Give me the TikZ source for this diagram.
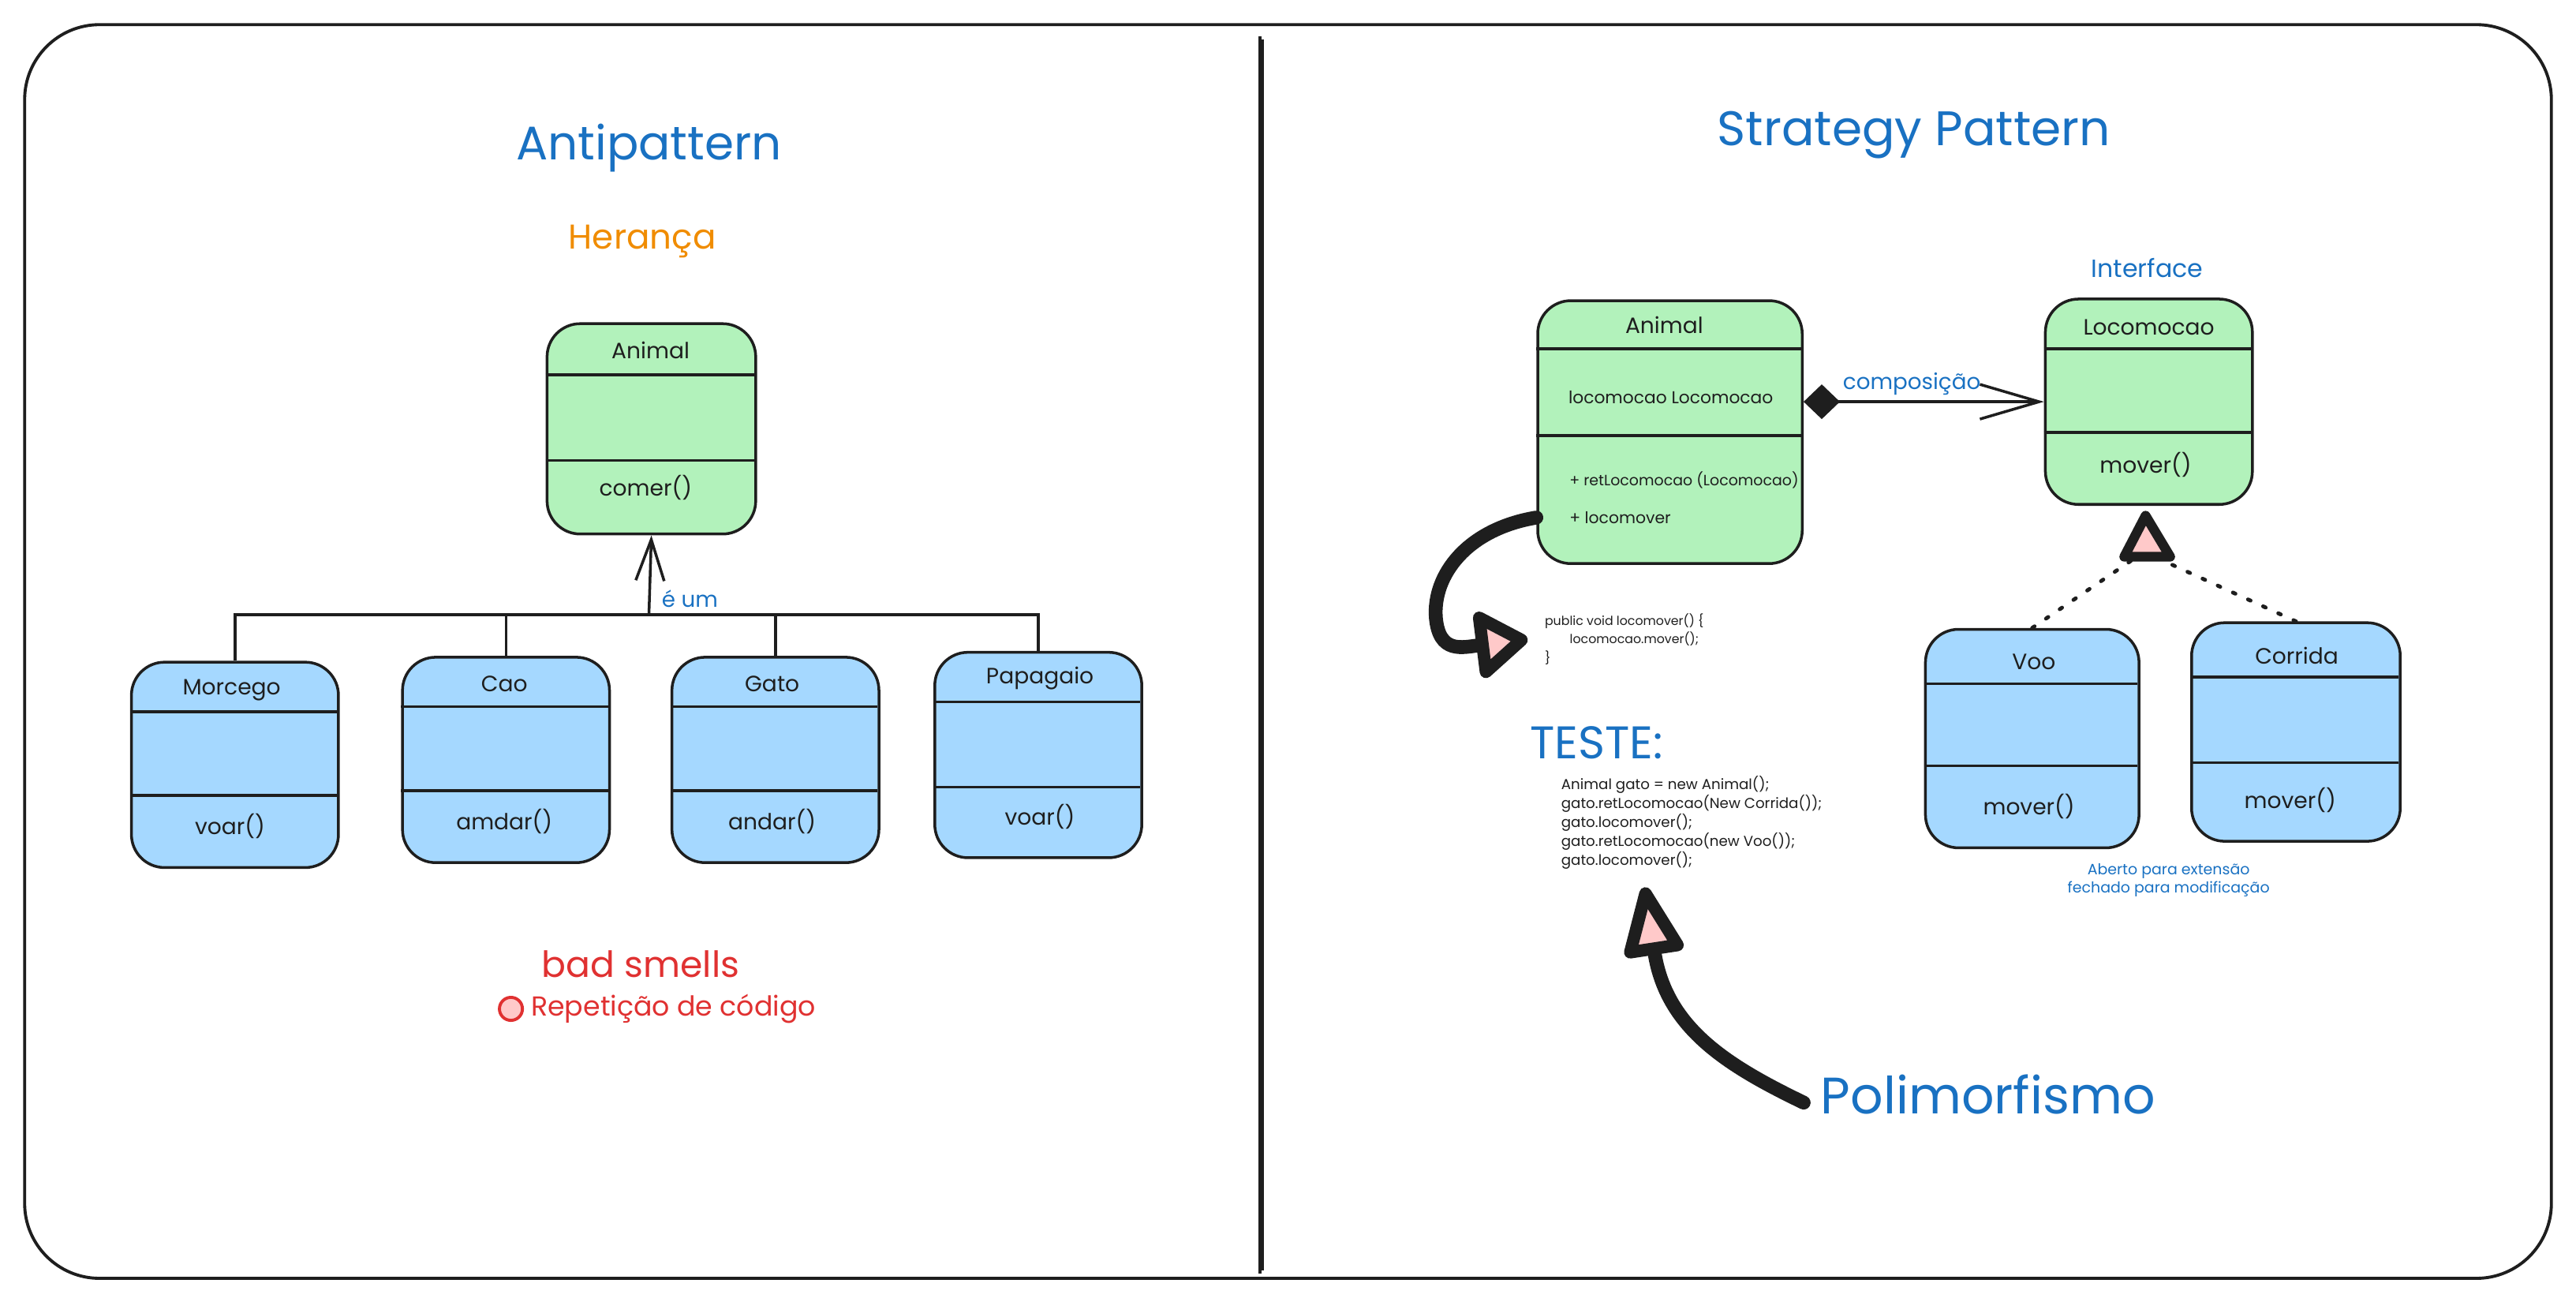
\documentclass[tikz,border=0pt]{standalone}
\usepackage{fontspec}
\setmainfont{Poppins}
\usepackage{tikz}
\usetikzlibrary{calc, arrows.meta}

\definecolor{ink}{HTML}{1E1E1E}
\definecolor{mint}{HTML}{B2F2BB}
\definecolor{sky}{HTML}{A5D8FF}
\definecolor{blush}{HTML}{FFC9C9}
\definecolor{penblue}{HTML}{1971C2}
\definecolor{penorange}{HTML}{F08C00}
\definecolor{penred}{HTML}{E03131}

\newcommand{\ux}{0.020823cm}
\newcommand{\txtsize}[1]{\fontsize{#1}{#1}\selectfont}
%the two rules inside a class box: name, width, first, second
\newcommand{\classrules}[4]{%
	\draw[divline] (#1.north west) ++(0,#3) -- ++(#2,0);
	\draw[divline] (#1.north west) ++(0,#4) -- ++(#2,0);
}

\tikzset{
	classbox/.style={draw=ink, line width=1pt, rounded corners=0.42cm, inner sep=0pt},
	greenbox/.style={classbox, fill=mint},
	bluebox/.style={classbox, fill=sky},
	divline/.style={draw=ink, line width=1pt},
	boxtext/.style={text=ink, inner sep=0pt, font=\txtsize{8}},
	note/.style={text=penblue, inner sep=0pt},
	conn/.style={draw=ink, line width=1pt},
	dotline/.style={draw=ink, line width=1.4pt, line cap=round, dash pattern=on 1pt off 5pt},
	bigline/.style={draw=ink, line width=5pt, line cap=round},
	bigtip/.style={-{Triangle[open, round, fill=blush, line width=4.5pt, #1]}},
}

\begin{document}
\begin{tikzpicture}[x=0.020823cm, y=-0.020823cm]
	\useasboundingbox (0,0) rectangle (1568,792);
	
	%frame
	\draw[draw=ink, line width=1.1pt, rounded corners=0.95cm] (15,15) rectangle (1553,778);
	\draw[draw=ink, line width=1pt] (767,22) -- (767,775);		%divider
	\draw[draw=ink, line width=0.8pt] (768.7,24) -- (768.7,773);
	
	%left: titles
	\node[note, font=\txtsize{17}] (ttlanti) at (395,90) {Antipattern};
	\node[note, text=penorange, font=\txtsize{12.4}] (ttlher) at (391,147) {Herança};
	
	%left: parent
	\node[greenbox, minimum width={127*\ux}, minimum height={128*\ux}] (anl) at (396.5,261) {};
	\classrules{anl}{127}{32}{84}
		\node[boxtext] (anlname) at (396,213) {Animal};
		\node[boxtext] (anlop) at (393,297) {comer()};
	
	%left: children
	\node[bluebox, minimum width={126*\ux}, minimum height={125*\ux}] (mor) at (143,465.5) {};
	\classrules{mor}{126}{31}{82}
		\node[boxtext] (morname) at (141,420) {Morcego};
		\node[boxtext] (morop) at (140,503) {voar()};
	%
	\node[bluebox, minimum width={126*\ux}, minimum height={125*\ux}] (cao) at (308,462.5) {};
	\classrules{cao}{126}{31}{82}
		\node[boxtext] (caoname) at (307,416) {Cao};
		\node[boxtext] (caoop) at (307,500) {amdar()};
	%
	\node[bluebox, minimum width={126*\ux}, minimum height={125*\ux}] (gat) at (472,462.5) {};
	\classrules{gat}{126}{31}{82}
		\node[boxtext] (gatname) at (470,416) {Gato};
		\node[boxtext] (gatop) at (470,500) {andar()};
	%
	\node[bluebox, minimum width={126*\ux}, minimum height={125*\ux}] (pap) at (632,459.5) {};
	\classrules{pap}{126}{31}{83}
		\node[boxtext] (papname) at (633,413) {Papagaio};
		\node[boxtext] (papop) at (633,497) {voar()};
	
	%left: inheritance
	\coordinate (bar) at (395,374);
	\draw[conn] (mor.north) -- (mor.north |- bar) -- (pap.north |- bar) -- (pap.north);
	\draw[conn] (cao.north) -- (cao.north |- bar);
	\draw[conn] (gat.north) -- (gat.north |- bar);
	\draw[conn, -{Straight Barb[length=0.52cm, width=0.36cm]}] (bar) -- (anl.south)
		node[note, font=\txtsize{7.9}, right=4pt, pos=0.2] (isa) {é um};
	
	%left: bad smells
	\node[note, text=penred, font=\txtsize{13}] (smell) at (390,587) {bad smells};
	\node[circle, draw=penred, fill=blush, line width=1.1pt, minimum size={14*\ux}, inner sep=0pt] (dot) at (311,614) {};
	\node[note, text=penred, font=\txtsize{9.9}, anchor=west] (rep) at (323,614) {Repetição de código};
	
	%right: title
	\node[note, font=\txtsize{17.5}] (ttlstr) at (1165,82) {Strategy Pattern};
	
	%right: context
	\node[greenbox, minimum width={161*\ux}, minimum height={160*\ux}] (anr) at (1016.5,263) {};
	\classrules{anr}{161}{30}{83}
		\node[boxtext] (anrname) at (1013,198) {Animal};
		\node[boxtext, font=\txtsize{6.2}] (anrfield) at (1017,242) {locomocao Locomocao};
		\node[boxtext, font=\txtsize{5.4}, anchor=west] (ret) at (955,292) {+ retLocomocao (Locomocao)};
		\node[boxtext, font=\txtsize{5.8}, anchor=west] (lmv) at (955,315) {+ locomover};
	
	%right: strategy
	\node[note, font=\txtsize{9}] (iface) at (1307,163) {Interface};
	\node[greenbox, minimum width={126*\ux}, minimum height={125*\ux}] (loc) at (1308,244.5) {};
	\classrules{loc}{126}{31}{82}
		\node[boxtext] (locname) at (1308,199) {Locomocao};
		\node[boxtext] (locop) at (1306,283) {mover()};
	
	%right: concrete strategies
	\node[bluebox, minimum width={130*\ux}, minimum height={133*\ux}] (voo) at (1237,449.5) {};
	\classrules{voo}{130}{34}{84}
		\node[boxtext] (vooname) at (1238,403) {Voo};
		\node[boxtext] (vooop) at (1235,491) {mover()};
	%
	\node[bluebox, minimum width={127*\ux}, minimum height={133*\ux}] (cor) at (1397.5,445.5) {};
	\classrules{cor}{127}{34}{86}
		\node[boxtext] (corname) at (1398,399) {Corrida};
		\node[boxtext] (corop) at (1394,487) {mover()};
	\node[note, align=center, font=\fontsize{5.4}{6.5}\selectfont] (ocp) at (1320,535.5) {Aberto para extensão\\fechado para modificação};
	
	%composition
	\draw[conn, {Diamond[length=0.46cm, width=0.44cm]}-{Straight Barb[length=0.75cm, width=0.44cm]}] (anr.east |- loc.west) -- (loc.west)
		node[note, font=\txtsize{7.9}, above=2pt, pos=0.45] (comp) {composição};
	
	%realization
	\coordinate (trl) at (1299,340);
	\coordinate (trr) at (1314,340);
	\draw[dotline] (voo.north) -- (trl);
	\draw[dotline] (cor.north) -- (trr);
	\filldraw[draw=ink, fill=blush, line width=3.5pt, line join=round] ($(loc.south)+(-2,6)$) -- ++(-13,25) -- ++(28,0) -- cycle;
	
	%locomover body
	\node[boxtext, font=\fontsize{4.5}{6.8}\selectfont, align=left, anchor=west] (pub) at (940,389) {public void locomover() \{\\\hspace*{9pt}locomocao.mover();\\\}};
	\draw[bigline, bigtip={length=0.72cm, width=0.95cm}] (anr.west |- lmv) .. controls (893,322) and (872,350) .. (874,376) .. controls (876,398) and (890,394) .. ([xshift=-6pt]pub.west);
	
	%test code
	\node[note, font=\txtsize{16.5}, anchor=west] (teste) at (931,452) {TESTE:};
	\node[boxtext, font=\fontsize{5.2}{6.8}\selectfont, align=left, anchor=north west] (code) at (950,472) {Animal gato = new Animal();\\gato.retLocomocao(New Corrida());\\gato.locomover();\\gato.retLocomocao(new Voo());\\gato.locomover();};
	
	%polimorfismo
	\node[note, font=\txtsize{18.5}, anchor=west] (poli) at (1108,666) {Polimorfismo};
	\coordinate (codetip) at (1001,540);
	\draw[bigline, bigtip={length=1.0cm, width=0.8cm}] ([xshift=-6pt,yshift=-3pt]poli.west) .. controls (1050,648) and (1014,625) .. (codetip);
\end{tikzpicture}
\end{document}
